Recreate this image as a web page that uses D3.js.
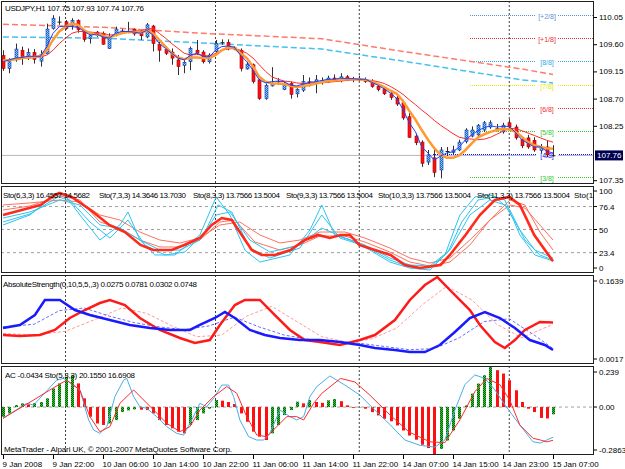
<!DOCTYPE html>
<html>
<head>
<meta charset="utf-8">
<script src="https://cdnjs.cloudflare.com/ajax/libs/d3/7.8.5/d3.min.js"></script>
<style>
  body { margin: 0; background: #fff; }
  text { font-family: "Liberation Sans", Arial, sans-serif; font-size: 8px; fill: #000; }
</style>
</head>
<body>
<svg id="chart" width="625" height="469"></svg>
<script>
// ---- data ----
const symbolTitle = "USDJPY,H1  107.75 107.93 107.74 107.76";
const timeLabels = ["9 Jan 2008", "9 Jan 22:00", "10 Jan 06:00", "10 Jan 14:00", "10 Jan 22:00",
  "11 Jan 06:00", "11 Jan 14:00", "11 Jan 22:00", "14 Jan 07:00", "14 Jan 15:00", "14 Jan 23:00", "15 Jan 07:00"];
const timeLabelBars = [0, 8, 16, 24, 32, 40, 48, 56, 64, 72, 80, 88];
const daySeparatorBars = [10, 34, 57, 81];

const priceTicks = [110.05, 109.60, 109.15, 108.70, 108.25, 107.35];
const lastPrice = 107.76;

// open, high, low, close per H1 bar
const ohlc = [
  [109.41,109.50,109.16,109.20],[109.20,109.37,109.12,109.31],[109.34,109.61,109.31,109.52],[109.50,109.56,109.26,109.38],
  [109.39,109.53,109.34,109.46],[109.46,109.52,109.28,109.35],[109.32,109.50,109.23,109.43],[109.44,109.94,109.42,109.85],
  [109.86,110.08,109.84,110.03],[109.96,110.06,109.92,109.97],[109.97,110.00,109.84,109.86],[109.90,110.03,109.84,109.99],
  [109.99,110.01,109.79,109.84],[109.81,109.85,109.64,109.68],[109.69,109.78,109.61,109.74],[109.80,109.82,109.72,109.74],
  [109.78,109.81,109.59,109.60],[109.53,109.78,109.52,109.73],[109.75,109.89,109.73,109.85],[109.82,109.85,109.77,109.81],
  [109.81,109.97,109.78,109.80],[109.85,109.86,109.74,109.77],[109.81,109.83,109.67,109.74],[109.72,109.95,109.70,109.92],
  [109.90,109.92,109.48,109.61],[109.60,109.64,109.31,109.50],[109.51,109.56,109.42,109.45],[109.47,109.53,109.26,109.37],
  [109.34,109.42,109.09,109.23],[109.25,109.37,109.12,109.30],[109.31,109.56,109.17,109.53],[109.50,109.67,109.42,109.45],
  [109.47,109.50,109.28,109.31],[109.31,109.45,109.28,109.42],[109.48,109.67,109.45,109.61],[109.62,109.68,109.59,109.63],
  [109.63,109.68,109.50,109.54],[109.55,109.57,109.50,109.52],[109.50,109.53,109.15,109.20],[109.19,109.31,109.18,109.27],
  [109.26,109.28,108.95,108.98],[109.01,109.03,108.68,108.70],[108.70,108.95,108.68,108.92],[108.91,109.22,108.90,108.95],
  [108.98,109.04,108.93,108.98],[108.85,108.98,108.84,108.95],[108.95,108.98,108.70,108.77],[108.78,108.90,108.72,108.85],
  [108.84,109.09,108.81,108.98],[108.97,109.05,108.90,108.98],[108.96,109.09,108.79,109.01],[108.97,109.05,108.93,109.00],
  [109.00,109.08,108.96,109.04],[109.04,109.10,108.98,109.01],[109.01,109.12,108.97,109.06],[109.06,109.09,108.99,109.02],
  [109.02,109.06,108.97,109.03],[109.03,109.08,108.99,109.01],[109.01,109.05,108.96,108.98],[108.98,109.02,108.88,108.90],
  [108.90,108.94,108.82,108.85],[108.85,108.90,108.76,108.78],[108.78,108.82,108.68,108.72],[108.71,108.75,108.58,108.61],
  [108.63,108.68,108.35,108.38],[108.40,108.46,108.05,108.06],[108.08,108.12,107.93,107.97],[107.98,108.01,107.57,107.63],
  [107.65,107.85,107.60,107.77],[107.72,107.85,107.40,107.48],[107.52,107.90,107.38,107.85],[107.82,107.90,107.75,107.83],
  [107.81,107.92,107.78,107.85],[107.85,108.02,107.83,107.98],[107.99,108.21,107.96,108.18],[108.08,108.24,108.06,108.18],
  [108.10,108.28,108.08,108.26],[108.18,108.33,108.15,108.30],[108.23,108.34,108.20,108.30],[108.20,108.28,108.16,108.20],
  [108.15,108.30,108.12,108.26],[108.30,108.36,108.20,108.23],[108.23,108.27,108.02,108.05],[108.03,108.07,107.88,107.92],
  [108.05,108.10,107.87,107.90],[108.01,108.06,107.82,107.85],[107.84,107.95,107.80,107.90],[107.90,108.01,107.73,107.77],
  [107.75,107.93,107.74,107.76]
];

const maBlue = [109.31,109.34,109.37,109.38,109.40,109.40,109.40,109.56,109.78,109.89,109.90,109.89,109.88,109.81,109.75,
  109.77,109.72,109.70,109.78,109.81,109.81,109.80,109.78,109.83,109.75,109.61,109.53,109.45,109.37,109.34,109.42,109.45,
  109.40,109.39,109.50,109.56,109.57,109.55,109.42,109.31,109.17,109.01,108.96,108.98,108.99,108.98,108.92,108.91,108.94,
  108.97,108.98,109.00,109.02,109.02,109.04,109.03,109.03,109.02,109.02,108.97,108.92,108.86,108.79,108.70,108.52,108.30,
  108.15,107.90,107.80,107.68,107.75,107.80,107.82,107.90,108.02,108.10,108.17,108.22,108.25,108.23,108.24,108.24,108.14,
  108.02,107.96,107.90,107.90,107.83,107.80];
const maOrange = [109.33,109.34,109.35,109.37,109.38,109.39,109.40,109.50,109.67,109.81,109.89,109.94,109.92,109.83,109.78,
  109.76,109.74,109.71,109.75,109.78,109.80,109.80,109.79,109.82,109.78,109.67,109.56,109.45,109.38,109.35,109.38,109.38,
  109.37,109.37,109.42,109.50,109.55,109.54,109.45,109.37,109.23,109.06,108.98,108.95,108.95,108.94,108.91,108.89,108.91,
  108.92,108.95,108.97,108.99,109.00,109.01,109.02,109.02,109.02,109.01,108.98,108.94,108.89,108.83,108.78,108.66,108.50,
  108.35,108.18,108.02,107.88,107.77,107.72,107.72,107.76,107.85,107.96,108.06,108.11,108.15,108.18,108.20,108.19,108.15,
  108.07,107.98,107.93,107.90,107.88,107.87];
const maRed = [109.34,109.34,109.35,109.36,109.37,109.38,109.39,109.42,109.50,109.61,109.70,109.78,109.81,109.81,109.80,
  109.79,109.78,109.75,109.76,109.78,109.81,109.82,109.82,109.85,109.86,109.78,109.70,109.61,109.53,109.45,109.42,109.43,
  109.42,109.40,109.45,109.50,109.52,109.53,109.50,109.45,109.37,109.26,109.15,109.06,109.02,108.99,108.98,108.96,108.95,
  108.95,108.97,108.96,108.97,108.98,108.99,109.00,109.01,109.01,109.01,109.00,108.98,108.95,108.90,108.84,108.77,108.68,
  108.60,108.51,108.43,108.34,108.26,108.19,108.12,108.06,108.04,108.03,108.02,108.03,108.06,108.11,108.16,108.21,108.20,
  108.17,108.13,108.09,108.05,108.01,107.98];
// slow averages, [bar, price]
const maSlowRed = [[0,109.93],[16,109.88],[32,109.78],[51,109.69],[64,109.48],[83,109.19],[88,109.10]];
const maSlowCyan = [[0,109.72],[16,109.70],[32,109.62],[51,109.52],[64,109.32],[83,109.01],[88,108.96]];

const murreyLabels = ["[+2/8]", "[+1/8]", "[8/8]", "[7/8]", "[6/8]", "[5/8]", "[4/8]", "[3/8]"];
const murreyLevels = [110.08, 109.71, 109.32, 108.93, 108.54, 108.16, 107.78, 107.40];

// stochastic window, [bar, value]
const stoHeaders = ["Sto(6,3,3) 16.4557 14.5682", "Sto(7,3,3) 14.3646 13.7030", "Sto(8,3,3) 13.7566 13.5004",
  "Sto(9,3,3) 13.7566 13.5004", "Sto(10,3,3) 13.7566 13.5004", "Sto(11,3,3) 13.7566 13.5004", "Sto(12,"];
const stoLevels = [76.4, 50, 23.4];
const stoCyanFast = [[0,55.2],[4.3,66.7],[8.3,89.7],[9.9,89.7],[12.3,66.7],[15.5,37.9],[18.7,55.2],[20,70.1],[21.9,37.9],
  [24.3,20.7],[27.5,20.7],[31.5,43.7],[34.1,87.4],[36.3,66.7],[38.7,26.4],[41.1,12.6],[45.9,20.7],[49.1,49.4],[51,78.2],
  [53.1,43.7],[55.5,37.9],[58.7,26.4],[61.9,12.6],[65.1,5.7],[68.3,3.4],[70.7,20.7],[73.1,66.7],[75.5,87.4],[77.9,89.7],
  [80.3,83.9],[82.7,43.7],[85.1,20.7],[88,13.8]];
const stoCyanMid = [[0,58.6],[4.3,67.8],[8.8,87.4],[10.7,83.9],[13.9,58.6],[17.1,40.2],[20,60.9],[22.7,32.2],[25.9,20.7],
  [29.1,24.1],[32.3,47.1],[34.4,78.2],[36.6,70.1],[39.5,28.7],[42.7,17.2],[47.5,28.7],[51,66.7],[53.9,40.2],[57.9,31],
  [61.9,14.9],[65.1,6.9],[68.3,5.7],[71.2,24.1],[73.4,58.6],[76,83.9],[78.7,87.4],[81.1,72.4],[83.5,37.9],[85.9,20.7],[88,14.9]];
const stoCyanSlow = [[0,63.2],[4.3,70.1],[9.1,83.9],[12.3,78.2],[15.5,55.2],[18.7,51.7],[21.9,37.9],[25.1,26.4],[28.3,26.4],
  [31.5,37.9],[34.1,66.7],[36.3,70.1],[39.5,37.9],[42.7,24.1],[47.5,32.2],[51,51.7],[53.9,42.5],[57.9,32.2],[61.9,17.2],
  [65.1,9.2],[68.3,8],[71.5,26.4],[74.7,66.7],[77.9,83.9],[80.3,78.2],[82.7,49.4],[85.1,26.4],[88,17.2]];
const stoRedMid = [[0,72.4],[4.3,77],[9.1,88.5],[12.3,83.9],[15.5,58.6],[18.7,51.7],[21.9,37.9],[25.1,29.9],[28.3,29.9],
  [31.5,37.9],[34.7,58.6],[37.1,60.9],[40.3,35.6],[44.3,26.4],[47.5,32.2],[50.7,42.5],[54.7,42.5],[57.9,35.6],[61.9,24.1],
  [65.1,12.6],[68.3,8],[71.5,12.6],[74.7,32.2],[77.9,60.9],[81.1,83.9],[83.5,78.2],[85.9,47.1],[88,26.4]];
const stoRedSlow = [[0,78.2],[4.3,80.5],[9.1,83.9],[12.3,81.6],[15.5,66.7],[18.7,60.9],[21.9,47.1],[25.1,37.9],[28.3,34.5],
  [31.5,40.2],[34.7,55.2],[37.9,58.6],[41.1,43.7],[44.3,34.5],[47.5,37.9],[50.7,47.1],[54.7,47.1],[57.9,40.2],[61.9,28.7],
  [65.1,17.2],[68.3,11.5],[71.5,17.2],[74.7,37.9],[77.9,60.9],[81.1,78.2],[83.5,74.7],[85.9,55.2],[88,37.9]];
const stoSignal = [[0,66.7],[3,72.4],[6,78.2],[8,88.5],[9,92],[11,87.4],[14,72.4],[17,55.2],[19.5,47.1],[22,32.2],[24,26.4],
  [27,26.4],[29,32.2],[31.5,40.2],[33.4,55.2],[35,63.2],[36.6,60.9],[38.2,43.7],[39.8,26.4],[41.4,20.7],[43.5,20.7],[46,26.4],
  [48.3,37.9],[50.4,43.7],[52.3,40.2],[54,43.7],[55.5,43.7],[57,32.2],[59.5,26.4],[62,20.7],[64.3,9.2],[66.7,5.7],[70,9.2],
  [71.5,20.7],[74,43.7],[76.3,66.7],[78.7,83.9],[81,87.4],[82.7,78.2],[85,43.7],[88,13.5]];

// AbsoluteStrength window, [bar, value]
const absHeader = "AbsoluteStrength(0,10,5,5,,3) 0.0275 0.0781 0.0302 0.0748";
const absBull = [[0,0.0551],[2.7,0.0533],[5.9,0.0551],[8.3,0.0644],[10.7,0.0865],[13.1,0.1012],[15.5,0.1141],[17.1,0.1197],
  [19.5,0.1104],[21.9,0.0865],[25.1,0.0644],[28.3,0.0496],[30.7,0.0404],[33.1,0.0459],[34.7,0.0736],[37.1,0.1104],[38.7,0.1197],
  [41.1,0.1197],[43.5,0.0920],[45.9,0.0644],[48.3,0.0459],[50.7,0.0422],[53.9,0.0367],[57.1,0.0459],[59.5,0.0551],[62.7,0.0828],
  [65.1,0.1197],[67.5,0.1473],[69.5,0.1620],[71.5,0.1381],[74.7,0.1012],[76.3,0.0736],[78.7,0.0422],[80.3,0.0312],[81.9,0.0459],
  [83.5,0.0644],[85.9,0.0791],[88,0.0781]];
const absBear = [[0,0.0680],[2.7,0.0736],[5.1,0.0920],[6.7,0.1197],[9.1,0.1197],[11.5,0.1012],[13.9,0.0920],[17.1,0.0828],
  [20.3,0.0736],[23.5,0.0680],[26.7,0.0644],[29.9,0.0644],[31.5,0.0736],[33.9,0.0865],[35.5,0.0975],[37.1,0.0865],[39.5,0.0644],
  [41.9,0.0551],[44.3,0.0496],[47.5,0.0459],[50.7,0.0459],[53.9,0.0422],[57.1,0.0367],[59.5,0.0312],[62.7,0.0275],[65.1,0.0238],
  [67.5,0.0238],[69.9,0.0367],[72.3,0.0607],[74.7,0.0865],[77.1,0.0975],[79.5,0.0865],[81.9,0.0680],[84.3,0.0459],[86.7,0.0367],
  [88,0.0275]];
const absBullSig = [[0,0.058],[5,0.055],[10,0.062],[15,0.085],[19,0.105],[23,0.095],[27,0.072],[31,0.052],[35,0.055],[39,0.090],
  [43,0.108],[47,0.080],[51,0.052],[55,0.042],[59,0.048],[63,0.068],[67,0.110],[71,0.145],[75,0.120],[79,0.075],[83,0.050],
  [86,0.065],[88,0.0748]];
const absBearSig = [[0,0.070],[5,0.075],[9,0.100],[13,0.105],[17,0.090],[21,0.078],[25,0.070],[29,0.065],[33,0.072],[37,0.088],
  [41,0.070],[45,0.055],[49,0.047],[53,0.044],[57,0.040],[61,0.034],[65,0.028],[69,0.030],[73,0.050],[77,0.080],[81,0.085],
  [85,0.055],[88,0.0302]];

// Accelerator window
const acHeader = "AC -0.0434  Sto(5,3,3) 20.1550 16.6908";
const acValues = [-0.058,-0.038,0.012,0.022,0.016,0.024,0.030,0.052,0.111,0.141,0.181,0.191,0.141,0.052,-0.058,-0.098,
  -0.107,-0.098,-0.078,-0.030,-0.020,-0.014,-0.016,-0.018,-0.038,-0.078,-0.107,-0.127,-0.147,-0.157,-0.107,-0.078,-0.038,
  -0.010,0.042,0.038,0.030,0.018,-0.038,-0.088,-0.147,-0.177,-0.197,-0.157,-0.107,-0.048,-0.018,0.032,0.022,0.042,0.030,
  0.025,0.040,0.048,0.035,0.010,-0.005,-0.002,-0.010,-0.030,-0.050,-0.070,-0.085,-0.110,-0.140,-0.170,-0.195,-0.225,-0.245,
  -0.286,-0.250,-0.200,-0.140,-0.070,0.010,0.080,0.140,0.190,0.239,0.220,0.200,0.160,0.100,0.030,-0.010,-0.030,-0.065,-0.068,
  -0.0434];
const acStoMain = [[0,41.7],[3.8,58.7],[4.9,56.8],[8.6,85.2],[9.7,87.1],[12.3,73.9],[13.7,39.8],[14.5,28.4],[15.5,24.6],
  [16.6,32.2],[17.9,66.3],[19.3,85.2],[19.8,87.1],[20.9,66.3],[21.9,54.9],[23,53],[24.6,43.6],[26.2,32.2],[27.8,24.6],
  [28.9,22.7],[30.2,39.8],[31.5,58.7],[32.6,54.9],[33.7,64.4],[35,79.5],[36.1,79.5],[36.9,66.3],[37.9,39.8],[39.3,20.8],
  [40.6,17],[41.7,17],[42.7,24.6],[44.3,51.1],[45.9,43.6],[47,39.8],[48.1,43.6],[49.1,66.3],[50.2,77.7],[52.3,89.8],
  [54.7,79.5],[57.1,68],[59.5,51],[62,34],[64.3,17],[66.7,11],[69.1,9],[70.7,17],[72.3,51],[73.9,80],[75.5,91],[77.1,87],
  [78.7,74],[80.3,57],[82.7,34],[84.8,15],[86,13.6],[87,17],[88,20.16]];
const acStoSignal = [[0,41.7],[2.2,51.1],[4.9,62.5],[7.5,73.9],[10.2,85.2],[12.3,73.9],[13.9,43.6],[15.5,26.5],[17.1,32.2],
  [18.7,58.7],[20.9,73.9],[22.5,62.5],[24.1,51.1],[26.2,36],[28.3,26.5],[29.9,32.2],[31.5,51.1],[33.7,66.3],[35.8,77.7],
  [37.4,70.1],[39,43.6],[40.6,22.7],[42.2,20.8],[43.8,32.2],[45.4,43.6],[47,43.6],[48.1,39.8],[49.7,58.7],[51,70],[54,87],
  [56.3,83],[58.7,68],[62,45],[65,26],[68.3,15],[70.7,14],[73.1,40],[75.5,72],[77.4,87],[79.5,80],[81.1,62],[82.7,34],
  [84.8,19],[86,17],[87,15],[88,16.69]];
const copyright = "MetaTrader - Alpari UK, \u00a9 2001-2007 MetaQuotes Software Corp.";

// ---- layout ----
const svg = d3.select("#chart");
const plotL = 1, plotR = 594;
const panels = { main: [1, 184], sto: [186, 273], abs: [275, 364], ac: [366, 455] };

const x = d3.scaleLinear().domain([0, 88]).range([3, 553]);
const yMain = d3.scaleLinear().domain([107.35, 110.05]).range([180.2, 17]);
const ySto = d3.scaleLinear().domain([0, 100]).range([273, 186]);
const yAbs = d3.scaleLinear().domain([0.0017, 0.1639]).range([364, 276]);
const yAc = d3.scaleLinear().domain([-0.2863, 0.239]).range([455, 367]);
const yAcSto = d3.scaleLinear().domain([0, 100]).range([455, 367]);

svg.append("rect").attr("width", 625).attr("height", 469).attr("fill", "#fff");

const defs = svg.append("defs");
Object.entries(panels).forEach(([k, p]) => {
  defs.append("clipPath").attr("id", "clip-" + k)
    .append("rect").attr("x", plotL).attr("y", p[0]).attr("width", plotR - plotL).attr("height", p[1] - p[0]);
});
function stipple(id, base, dot) {
  const pat = defs.append("pattern").attr("id", id).attr("width", 2).attr("height", 2)
    .attr("patternUnits", "userSpaceOnUse");
  pat.append("rect").attr("width", 2).attr("height", 2).attr("fill", base);
  pat.append("rect").attr("width", 1).attr("height", 1).attr("fill", dot);
  pat.append("rect").attr("x", 1).attr("y", 1).attr("width", 1).attr("height", 1).attr("fill", dot);
}
stipple("bullBody", "#1f6fd0", "#8fd0ff");
stipple("acUp", "#006400", "#3fbf3f");

function layer(k) { return svg.append("g").attr("clip-path", "url(#clip-" + k + ")"); }

// day separators
const sepG = svg.append("g");
daySeparatorBars.forEach(b => {
  Object.values(panels).forEach(p => {
    sepG.append("line").attr("x1", x(b)).attr("x2", x(b)).attr("y1", p[0]).attr("y2", p[1])
      .attr("stroke", "#404040").attr("stroke-dasharray", "2,2");
  });
});

// ---- main window ----
const gMain = layer("main");
gMain.append("line").attr("x1", plotL).attr("x2", plotR).attr("y1", yMain(lastPrice)).attr("y2", yMain(lastPrice))
  .attr("stroke", "#b8b8b8");

const murreyColors = ["#5d8fd4", "#e83030", "#35a8e8", "#e8e800", "#f03030", "#30cc30", "#1010ff", "#30cc30"];
murreyLevels.forEach((lv, i) => {
  const yy = Math.round(yMain(lv)) + 0.5;
  const startX = i === 6 ? 433 : 470;
  gMain.append("line").attr("x1", startX).attr("x2", plotR).attr("y1", yy).attr("y2", yy)
    .attr("stroke", murreyColors[i]).attr("stroke-dasharray", "1,1");
  gMain.append("rect").attr("x", 536).attr("y", yy - 4).attr("width", 22).attr("height", 8).attr("fill", "#fff");
  gMain.append("text").attr("x", 547).attr("y", yy + 3).attr("text-anchor", "middle")
    .style("font-size", "7px").style("fill", murreyColors[i]).text(murreyLabels[i]);
});

const lineMain = d3.line().x(d => x(d[0])).y(d => yMain(d[1]));
gMain.append("path").attr("d", lineMain(maSlowRed)).attr("fill", "none").attr("stroke", "#ff7a6a")
  .attr("stroke-width", 1.5).attr("stroke-dasharray", "6,3");
gMain.append("path").attr("d", lineMain(maSlowCyan)).attr("fill", "none").attr("stroke", "#45c0f0")
  .attr("stroke-width", 1.5).attr("stroke-dasharray", "6,3");

// candles
const candles = gMain.append("g");
ohlc.forEach((c, i) => {
  const [o, h, l, cl] = c;
  const cx = Math.round(x(i)) + 0.5;
  candles.append("line").attr("x1", cx).attr("x2", cx).attr("y1", yMain(h)).attr("y2", yMain(l)).attr("stroke", "#303030");
  const top = yMain(Math.max(o, cl)), bot = yMain(Math.min(o, cl));
  if (bot - top < 1.2) {
    candles.append("line").attr("x1", cx - 2).attr("x2", cx + 2).attr("y1", (top + bot) / 2).attr("y2", (top + bot) / 2)
      .attr("stroke", "#202020");
  } else {
    candles.append("rect").attr("x", cx - 1.5).attr("y", top).attr("width", 3).attr("height", bot - top)
      .attr("fill", cl >= o ? "url(#bullBody)" : "#ff1010")
      .attr("stroke", cl >= o ? "#1838a0" : "#a00000").attr("stroke-width", 0.6);
  }
});

const lineIdx = yS => d3.line().x((d, i) => x(i)).y(d => yS(d));
gMain.append("path").attr("d", lineIdx(yMain)(maRed)).attr("fill", "none").attr("stroke", "#ff2a2a").attr("stroke-width", 1);
gMain.append("path").attr("d", lineIdx(yMain)(maOrange)).attr("fill", "none").attr("stroke", "#ff9a30").attr("stroke-width", 2.5);
gMain.append("path").attr("d", lineIdx(yMain)(maBlue)).attr("fill", "none").attr("stroke", "#2040ff").attr("stroke-width", 1);

svg.append("text").attr("x", 5).attr("y", 11).attr("textLength", 139).text(symbolTitle);

// ---- stochastic window ----
const gSto = layer("sto");
stoLevels.forEach(v => {
  gSto.append("line").attr("x1", plotL).attr("x2", plotR).attr("y1", ySto(v)).attr("y2", ySto(v))
    .attr("stroke", "#a0a0a0").attr("stroke-dasharray", "3,3");
});
const lineSto = d3.line().x(d => x(d[0])).y(d => ySto(d[1]));
[stoRedSlow, stoRedMid].forEach(s => {
  gSto.append("path").attr("d", lineSto(s)).attr("fill", "none").attr("stroke", "#ff7060").attr("stroke-width", 1);
});
[stoCyanSlow, stoCyanMid, stoCyanFast].forEach(s => {
  gSto.append("path").attr("d", lineSto(s)).attr("fill", "none").attr("stroke", "#2ec4f0").attr("stroke-width", 1);
});
gSto.append("path").attr("d", lineSto(stoSignal)).attr("fill", "none").attr("stroke", "#ff2a1a").attr("stroke-width", 2.6);
const stoHeaderX = [3, 99, 193, 286, 378, 477, 574];
stoHeaders.forEach((t, i) => {
  gSto.append("text").attr("x", stoHeaderX[i]).attr("y", 198).attr("textLength", i === 6 ? null : (i >= 4 ? 93 : 87))
    .text(t);
});

// ---- absolute strength window ----
const gAbs = layer("abs");
const lineAbs = d3.line().x(d => x(d[0])).y(d => yAbs(d[1]));
gAbs.append("path").attr("d", lineAbs(absBullSig)).attr("fill", "none").attr("stroke", "#ff9a9a").attr("stroke-dasharray", "3,2");
gAbs.append("path").attr("d", lineAbs(absBearSig)).attr("fill", "none").attr("stroke", "#6a6aff").attr("stroke-dasharray", "3,2");
gAbs.append("path").attr("d", lineAbs(absBull)).attr("fill", "none").attr("stroke", "#ff1a1a").attr("stroke-width", 2.5);
gAbs.append("path").attr("d", lineAbs(absBear)).attr("fill", "none").attr("stroke", "#1a1aff").attr("stroke-width", 2.5);
svg.append("text").attr("x", 3).attr("y", 287).attr("textLength", 194).text(absHeader);

// ---- accelerator window ----
const gAc = layer("ac");
gAc.append("line").attr("x1", plotL).attr("x2", plotR).attr("y1", yAc(0)).attr("y2", yAc(0))
  .attr("stroke", "#a0a0a0").attr("stroke-dasharray", "3,3");
acValues.forEach((v, i) => {
  const up = i === 0 || v >= acValues[i - 1];
  gAc.append("rect").attr("x", Math.round(x(i)) - 1).attr("width", 3)
    .attr("y", Math.min(yAc(v), yAc(0))).attr("height", Math.abs(yAc(v) - yAc(0)))
    .attr("fill", up ? "url(#acUp)" : "#ff1010");
});
const lineAcSto = d3.line().x(d => x(d[0])).y(d => yAcSto(d[1]));
gAc.append("path").attr("d", lineAcSto(acStoMain)).attr("fill", "none").attr("stroke", "#4aaee8").attr("stroke-width", 1);
gAc.append("path").attr("d", lineAcSto(acStoSignal)).attr("fill", "none").attr("stroke", "#ff2a2a").attr("stroke-width", 1);
svg.append("text").attr("x", 5).attr("y", 378).attr("textLength", 130).text(acHeader);
svg.append("text").attr("x", 4).attr("y", 452).attr("textLength", 228).text(copyright);

// ---- frames ----
Object.values(panels).forEach(p => {
  svg.append("rect").attr("x", plotL + 0.5).attr("y", p[0] + 0.5).attr("width", plotR - plotL - 1)
    .attr("height", p[1] - p[0] - 1).attr("fill", "none").attr("stroke", "#202020");
});

// ---- price axis ----
const axMain = svg.append("g").attr("transform", `translate(${plotR},0)`)
  .call(d3.axisRight(yMain).tickValues(priceTicks).tickFormat(d3.format(".2f")).tickSize(3).tickPadding(2));
axMain.select(".domain").remove();
axMain.selectAll("text").style("font-size", "8px").style("font-family", "Liberation Sans, Arial, sans-serif");
const lp = yMain(lastPrice);
svg.append("rect").attr("x", plotR + 1).attr("y", lp - 5).attr("width", 28).attr("height", 10).attr("fill", "#000050");
svg.append("text").attr("x", plotR + 3).attr("y", lp + 3).style("fill", "#fff").text(lastPrice.toFixed(2));

function sideLabel(txt, yy) {
  svg.append("line").attr("x1", plotR).attr("x2", plotR + 3).attr("y1", yy).attr("y2", yy).attr("stroke", "#000");
  svg.append("text").attr("x", plotR + 5).attr("y", yy + 3).text(txt);
}
sideLabel("100", 191);
stoLevels.forEach(v => sideLabel(String(v), ySto(v)));
sideLabel("0", 268);
sideLabel("0.1639", 281);
sideLabel("0.0017", 359);
sideLabel("0.239", 372);
sideLabel("0.00", yAc(0));
sideLabel("-0.2863", 450);

// ---- time axis ----
const axT = svg.append("g").attr("transform", `translate(0,${panels.ac[1]})`)
  .call(d3.axisBottom(x).tickValues(timeLabelBars).tickFormat((d, i) => timeLabels[i]).tickSize(4).tickPadding(2));
axT.select(".domain").remove();
axT.selectAll("text").attr("text-anchor", "start").attr("dx", "-1").style("font-size", "8px")
  .style("font-family", "Liberation Sans, Arial, sans-serif");
</script>
</body>
</html>
